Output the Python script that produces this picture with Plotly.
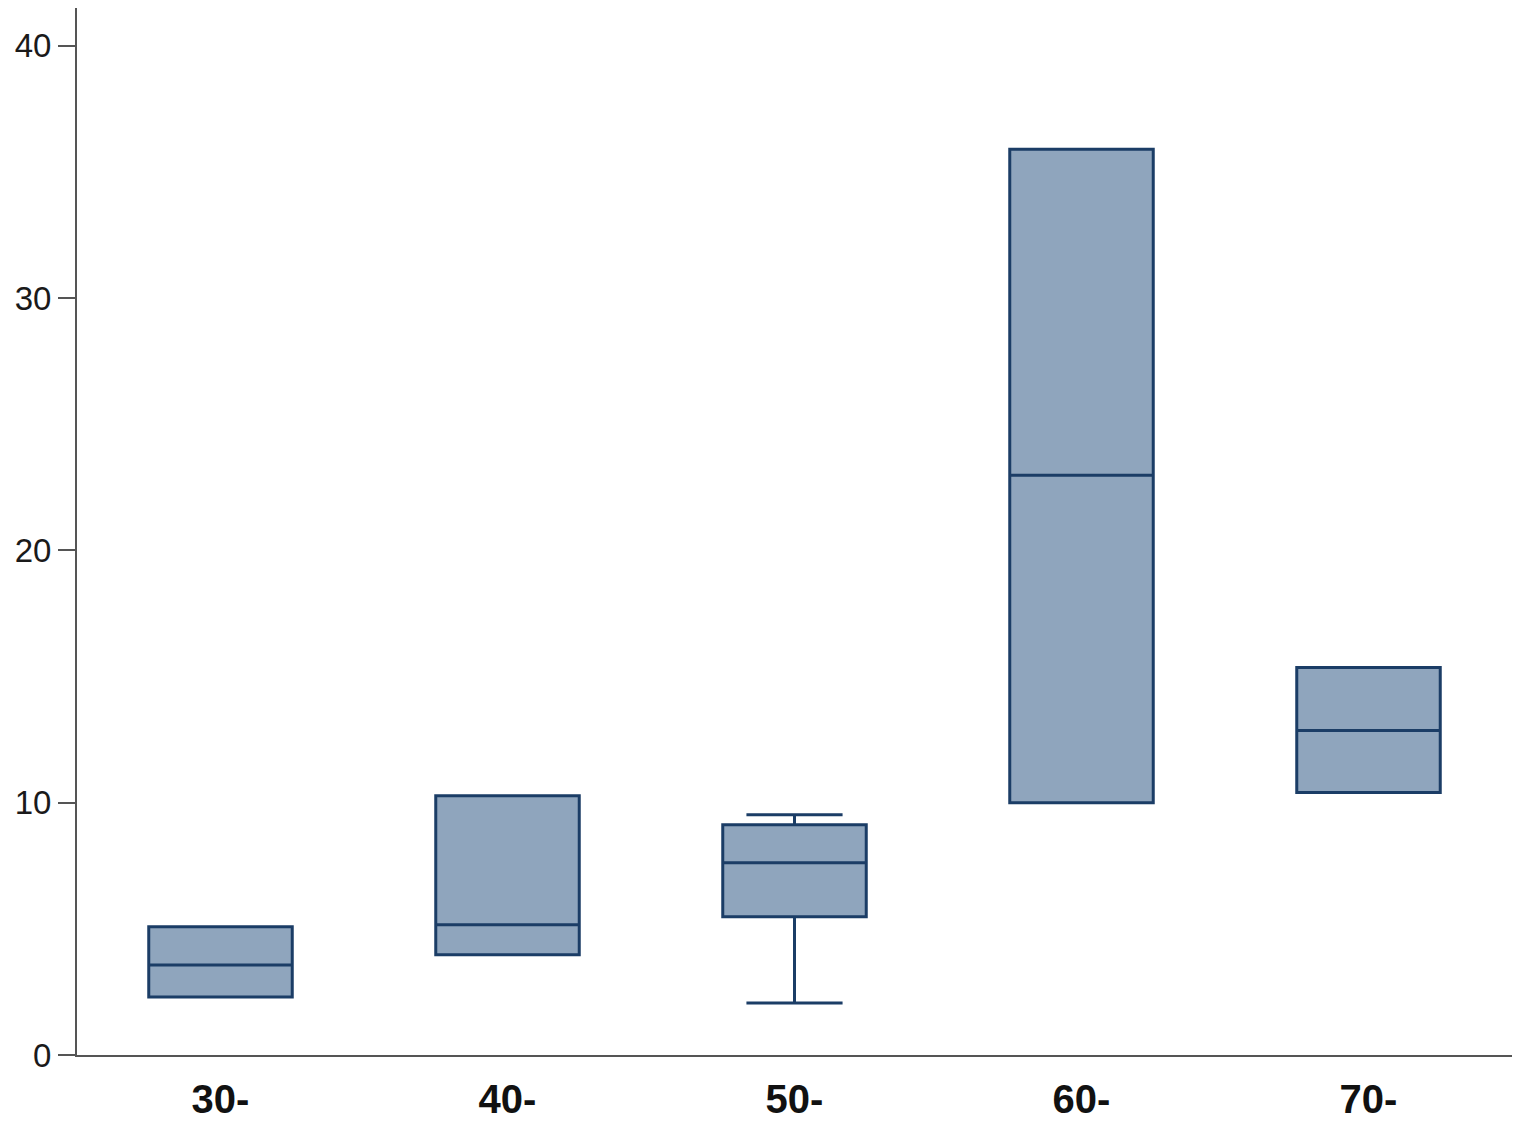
import plotly.graph_objects as go

categories = ["30-", "40-", "50-", "60-", "70-"]
q1 = [2.3, 3.97, 5.48, 10.0, 10.4]
median = [3.57, 5.16, 7.62, 22.98, 12.86]
q3 = [5.08, 10.28, 9.13, 35.9, 15.36]
lowerfence = [2.3, 3.97, 2.06, 10.0, 10.4]
upperfence = [5.08, 10.28, 9.52, 35.9, 15.36]

fig = go.Figure()
fig.add_trace(go.Box(
    x=categories,
    q1=q1, median=median, q3=q3,
    lowerfence=lowerfence, upperfence=upperfence,
    fillcolor="#8fa5bd",
    line=dict(color="#1b3d66", width=3),
    width=0.5,
    whiskerwidth=0.67,
    boxpoints=False,
    showlegend=False,
    hoverinfo="skip",
))

fig.update_layout(
    width=1517, height=1117,
    margin=dict(l=69, r=13, t=0, b=70),
    paper_bgcolor="white",
    plot_bgcolor="white",
    font=dict(family="Liberation Sans, Arial, sans-serif", color="#222"),
)
fig.update_xaxes(
    range=[-0.5, 4.5],
    showline=True, linecolor="#555", linewidth=2,
    showgrid=False, ticks="",
    ticklabelstandoff=8,
    tickfont=dict(size=40, color="#111", family="Liberation Sans, Arial, sans-serif", weight="bold"),
    zeroline=False,
)
fig.update_yaxes(
    range=[0, 41.5],
    tickvals=[0, 10, 20, 30, 40],
    showline=True, linecolor="#555", linewidth=2,
    showgrid=False, ticks="outside", ticklen=17, tickwidth=2, tickcolor="#555",
    tickfont=dict(size=33, color="#1a1a1a"),
    zeroline=False,
)

fig.write_html("out.html")
